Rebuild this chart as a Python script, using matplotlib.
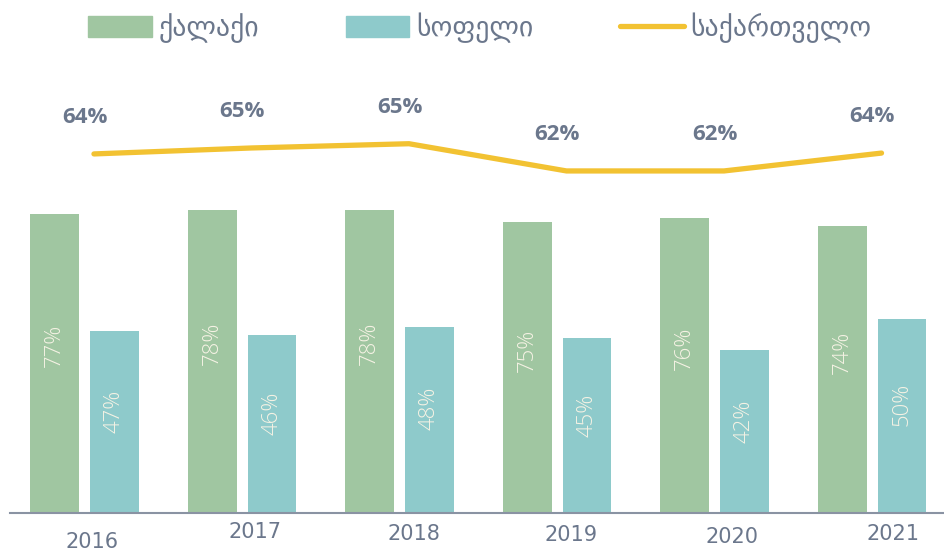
import matplotlib
matplotlib.use("Agg")
import matplotlib.pyplot as plt
import matplotlib.patches as mpatches
import matplotlib.lines as mlines
import matplotlib.transforms as mtransforms
import numpy as np

# === Data ===
years = ["2016", "2017", "2018", "2019", "2020", "2021"]
urban = [77, 78, 78, 75, 76, 74]          # ქალაქი
rural = [47, 46, 48, 45, 42, 50]          # სოფელი
georgia = [64.0, 64.7, 65.2, 62.0, 62.0, 64.1]  # საქართველო

labels = ["ქალაქი", "სოფელი", "საქართველო"]

# === Style ===
GREEN = "#a0c6a1"
TEAL = "#8ecacb"
YELLOW = "#f2c232"
INK = "#6b778c"
BAR_TEXT = "#f5f2e4"

fig = plt.figure(figsize=(9.45, 5.56), dpi=100)
ax = fig.add_axes([10 / 945, 43 / 556, 935 / 945, 388 / 556])
ax2 = ax.twinx()

x = np.arange(len(years))
w = 0.31
off = 0.19

ax.bar(x - off, urban, w, color=GREEN, zorder=2)
ax.bar(x + off, rural, w, color=TEAL, zorder=2)

bar_font = dict(rotation=90, ha="center", va="center", color=BAR_TEXT,
                fontsize=16, family="Open Sans", fontweight="light")
for xi, v in zip(x - off, urban):
    ax.text(xi, v * 0.56, f"{v}%", **bar_font)
for xi, v in zip(x + off, rural):
    ax.text(xi, v * 0.56, f"{v}%", **bar_font)

ax.set_xlim(-0.473, 5.463)
ax.set_ylim(0, 100)

# line on its own scale
ax2.plot(x + 0.06, georgia, color=YELLOW, lw=3.8, solid_capstyle="round",
         solid_joinstyle="round", zorder=3)
for xi, v in zip(x, georgia):
    ax2.annotate(f"{round(v)}%", (xi, v), xytext=(0, 26), textcoords="offset points",
                 ha="center", va="center", color=INK, fontsize=16,
                 family="Open Sans", fontweight="bold")
ax2.set_ylim(21.8, 67.4)

for a in (ax, ax2):
    a.set_yticks([])
    for s in ("top", "right", "left"):
        a.spines[s].set_visible(False)
ax2.spines["bottom"].set_visible(False)
ax.spines["bottom"].set_color("#8a93a3")
ax.spines["bottom"].set_linewidth(1.5)

# year labels, slightly uneven like the source layout
ax.set_xticks([])
year_dx = [0.05, 0.08, 0.09, 0.09, 0.11, 0.13]
year_dy = [-21, -14, -15, -16, -17, -15]
for xi, yr, dx, dy in zip(x, years, year_dx, year_dy):
    t = mtransforms.offset_copy(ax.transData, fig=fig, x=0, y=dy, units="points")
    ax.text(xi + dx, 0, yr, transform=t, ha="center", va="center",
            color=INK, fontsize=15, family="Liberation Sans Narrow")

handles = [
    mpatches.Patch(color=GREEN),
    mpatches.Patch(color=TEAL),
    mlines.Line2D([], [], color=YELLOW, lw=3.8, solid_capstyle="round"),
]
fig.legend(handles, labels, loc="upper left", bbox_to_anchor=(63 / 945, 1.022),
           ncol=3, frameon=False, labelcolor=INK,
           handlelength=2.3, handleheight=0.75, columnspacing=3.1,
           handletextpad=0.25, prop={"family": "DejaVu Sans", "size": 20})

fig.savefig("out.png", dpi=100)
